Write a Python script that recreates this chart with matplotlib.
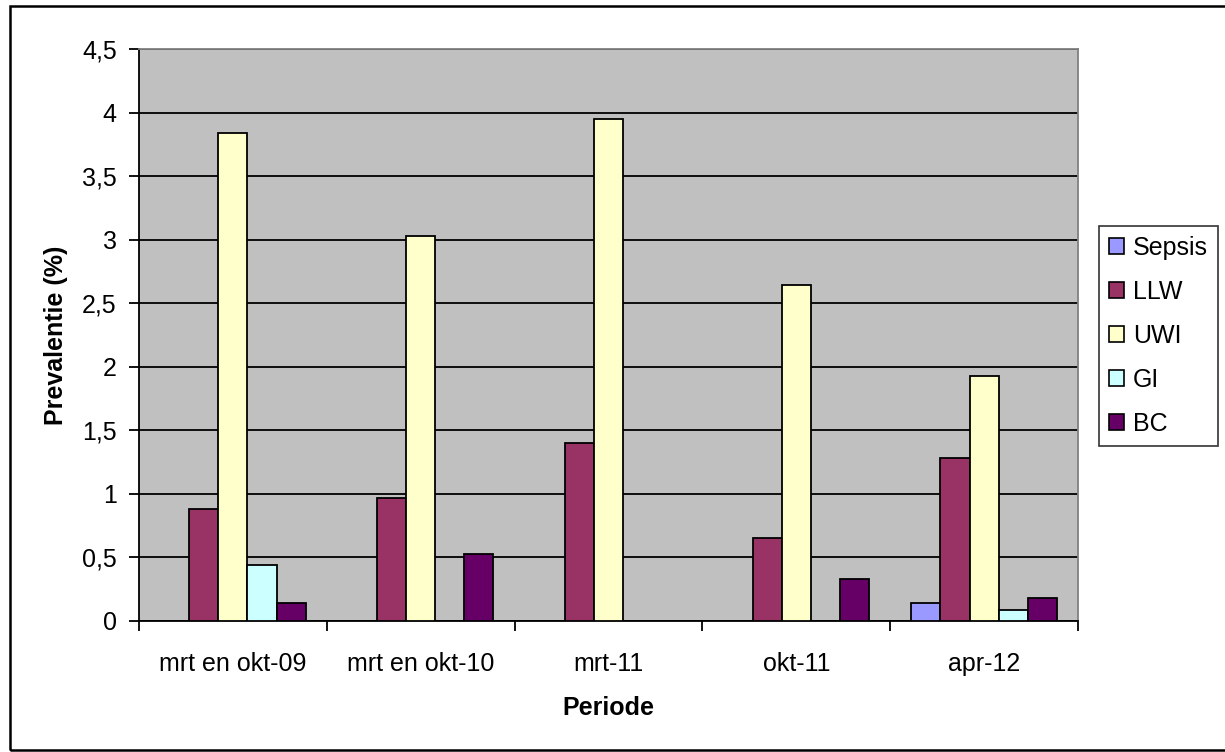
import matplotlib
matplotlib.use("Agg")
import matplotlib.pyplot as plt
import numpy as np
from matplotlib.patches import Rectangle, Patch

categories = ["mrt en okt-09", "mrt en okt-10", "mrt-11", "okt-11", "apr-12"]
series_names = ["Sepsis", "LLW", "UWI", "GI", "BC"]
sepsis = [0.0, 0.0, 0.0, 0.0, 0.14]
llw = [0.88, 0.97, 1.40, 0.65, 1.28]
uwi = [3.84, 3.03, 3.95, 2.64, 1.93]
gi = [0.44, 0.0, 0.0, 0.0, 0.09]
bc = [0.14, 0.53, 0.0, 0.33, 0.18]
yticks = [0, 0.5, 1, 1.5, 2, 2.5, 3, 3.5, 4, 4.5]
ytick_labels = ["0", "0,5", "1", "1,5", "2", "2,5", "3", "3,5", "4", "4,5"]
colors = ["#9999FF", "#993366", "#FFFFCC", "#CCFFFF", "#660066"]

plt.rcParams['font.family'] = ['Liberation Sans', 'DejaVu Sans']
FS = 18

W, H = 1225, 752
fig = plt.figure(figsize=(W / 100, H / 100), dpi=100)
fig.patch.set_facecolor("white")

left, right, top, bottom = 139, 1078, 49, 621
ax = fig.add_axes([left / W, 1 - bottom / H, (right - left) / W, (bottom - top) / H])
ax.set_facecolor("#C0C0C0")

x = np.arange(len(categories))
bw = 0.155
all_series = [sepsis, llw, uwi, gi, bc]
for i, (vals, c) in enumerate(zip(all_series, colors)):
    vals = np.array(vals)
    mask = vals > 0
    ax.bar(x[mask] + (i - 2) * bw, vals[mask], width=bw, color=c,
           edgecolor="black", linewidth=1.3, zorder=3)

ax.set_xlim(-0.5, len(categories) - 0.5)
ax.set_ylim(0, 4.5)
ax.set_yticks(yticks)
ax.set_yticklabels(ytick_labels)
ax.yaxis.grid(True, color="black", linewidth=1.3, zorder=1)
ax.set_axisbelow(True)

ax.set_xticks(x)
ax.set_xticklabels(categories)
ax.set_xticks(np.arange(-0.5, len(categories)), minor=True)
ax.tick_params(axis="x", which="major", length=0, pad=22, labelsize=FS)
ax.tick_params(axis="x", which="minor", length=7, width=1.3, direction="out")
ax.tick_params(axis="y", which="major", length=7, width=1.3, direction="out", pad=9, labelsize=FS)

for s in ["left", "bottom"]:
    ax.spines[s].set_color("black")
    ax.spines[s].set_linewidth(1.3)
for s in ["top", "right"]:
    ax.spines[s].set_color("#808080")
    ax.spines[s].set_linewidth(1.3)

ax.set_xlabel("Periode", fontsize=FS, fontweight="bold", va="center")
ax.xaxis.set_label_coords(0.5, (bottom - 708) / (bottom - top))
ax.set_ylabel("Prevalentie (%)", fontsize=FS, fontweight="bold", va="center", ha="center")
ax.yaxis.set_label_coords((56 - left) / (right - left), 0.5)

handles = [Patch(facecolor=c, edgecolor="black", linewidth=1.2) for c in colors]
leg = fig.legend(handles, series_names, loc="center left",
                 bbox_to_anchor=(1099 / W, 1 - 336 / H), fontsize=FS,
                 handlelength=0.6, handleheight=0.6, handletextpad=0.35,
                 labelspacing=0.8, borderpad=0.4, frameon=True, fancybox=False,
                 borderaxespad=0)
leg.get_frame().set_edgecolor("black")
leg.get_frame().set_linewidth(1.2)

border = Rectangle((10 / W, 1 - 750 / H), 1.5, (750 - 6) / H, transform=fig.transFigure,
                   fill=False, edgecolor="black", linewidth=1.8, clip_on=False)
fig.patches.append(border)

fig.savefig("out.png", dpi=100, facecolor="white")
